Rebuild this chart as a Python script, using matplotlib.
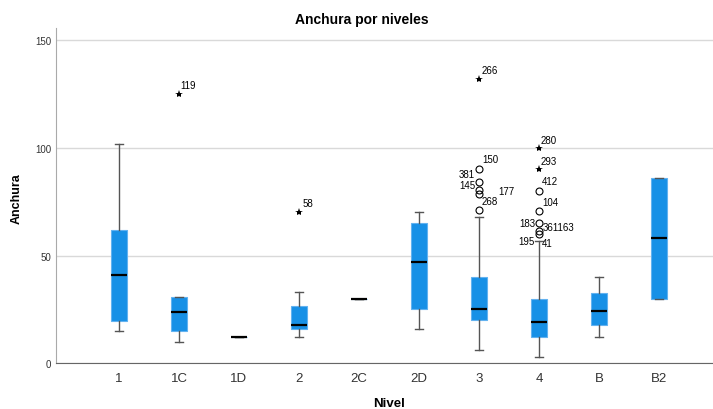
import matplotlib
matplotlib.use("Agg")
import matplotlib.pyplot as plt

# --- DATA ---
categories = ['1', '1C', '1D', '2', '2C', '2D', '3', '4', 'B', 'B2']
whislo = [15, 10, 12, 12, 30, 16, 6, 3, 12, 30]
q1 = [19.5, 15, 12, 16, 30, 25, 20, 12, 18, 30]
median = [41, 24, 12, 18, 30, 47, 25, 19, 24.5, 58]
q3 = [62, 31, 12, 26.5, 30, 65, 40, 30, 32.5, 86]
whishi = [102, 31, 12, 33, 30, 70, 68, 57, 40, 86]

# outliers (circles) and extremes (stars): category, value, case label
out_cat = ['3', '3', '3', '3', '3', '4', '4', '4', '4', '4']
out_val = [90, 84.3, 80.5, 78.5, 71, 80, 70.5, 65.3, 61.4, 60]
out_lab = ['150', '381', '145', '177', '268', '412', '104', '183', '361163', '195']
ext_cat = ['1C', '2', '3', '4', '4']
ext_val = [125, 70, 132, 100, 90]
ext_lab = ['119', '58', '266', '280', '293']
extra_lab = ['41']  # second label next to the lowest circle of "4"

# label offsets in pixels (dx, dy, ha)
LABEL_OFFSETS = {
    '150': (3, 10, 'left'), '381': (-4, 8, 'right'), '145': (-4, 5, 'right'),
    '177': (19, 3, 'left'), '268': (3, 9, 'left'), '412': (3, 10, 'left'),
    '104': (3, 9, 'left'), '183': (-4, 0, 'right'), '361163': (4, 4, 'left'),
    '195': (-4, -7, 'right'), '41': (3, -9, 'left'),
    '119': (1, 9, 'left'), '58': (4, 9, 'left'), '266': (3, 9, 'left'),
    '280': (2, 8, 'left'), '293': (2, 8, 'left'),
}

BOX_COLOR = '#1790e6'
EDGE_COLOR = '#62b2f0'
WHISK_COLOR = '#555555'

plt.rcParams['font.family'] = ['Liberation Sans', 'DejaVu Sans']

fig = plt.figure(figsize=(7.13, 4.10), dpi=100)
ax = fig.add_axes([56 / 713, 1 - 364.3 / 410, 657 / 713, (364.3 - 29.3) / 410])

stats = []
for i, c in enumerate(categories):
    stats.append(dict(label=c, whislo=whislo[i], q1=q1[i], med=median[i],
                      q3=q3[i], whishi=whishi[i], fliers=[]))

pos = list(range(len(categories)))
ax.bxp(stats, positions=pos, widths=0.255, patch_artist=True, showfliers=False,
       boxprops=dict(facecolor=BOX_COLOR, edgecolor=EDGE_COLOR, linewidth=0.8),
       medianprops=dict(color='black', linewidth=1.6),
       whiskerprops=dict(color=WHISK_COLOR, linewidth=1.0),
       capprops=dict(color=WHISK_COLOR, linewidth=1.0),
       capwidths=0.12, zorder=3)

idx = {c: i for i, c in enumerate(categories)}

ox = [idx[c] for c in out_cat]
ax.plot(ox, out_val, 'o', ms=5, mfc='none', mec='black', mew=0.8, zorder=4)
ex = [idx[c] for c in ext_cat]
ax.plot(ex, ext_val, '*', ms=6, color='black', mew=0, zorder=4)

def label(x, y, text):
    dx, dy, ha = LABEL_OFFSETS[text]
    ax.annotate(text, (x, y), xytext=(dx, dy), textcoords='offset pixels',
                ha=ha, va='center', fontsize=7, color='black', zorder=5)

for x, y, t in zip(ox, out_val, out_lab):
    label(x, y, t)
for x, y, t in zip(ex, ext_val, ext_lab):
    label(x, y, t)
label(idx['4'], out_val[-1], extra_lab[0])

ax.set_xlim(-1.05, 9.9)
ax.set_ylim(0, 155.5)
ax.set_yticks([0, 50, 100, 150])
ax.set_xticks(pos)
ax.set_xticklabels(categories)
ax.yaxis.grid(True, color='#d9d9d9', linewidth=1.0, zorder=0)
ax.set_axisbelow(True)
ax.tick_params(axis='y', length=0, pad=3.6, labelsize=7, labelcolor='#333333')
ax.tick_params(axis='x', length=0, pad=6, labelsize=9.5, labelcolor='#333333')

for s in ['top', 'right']:
    ax.spines[s].set_visible(False)
ax.spines['left'].set_color('#aaaaaa')
ax.spines['bottom'].set_color('#666666')

fig.text(362 / 713, 1 - 20 / 410, 'Anchura por niveles', ha='center', va='center',
         fontsize=10, fontweight='bold')
fig.text(389.5 / 713, 1 - 404 / 410, 'Nivel', ha='center', va='center',
         fontsize=9.5, fontweight='bold')
fig.text(17 / 713, 1 - 199 / 410, 'Anchura', ha='center', va='center',
         rotation=90, fontsize=9, fontweight='bold')

fig.savefig('out.png', dpi=100)
